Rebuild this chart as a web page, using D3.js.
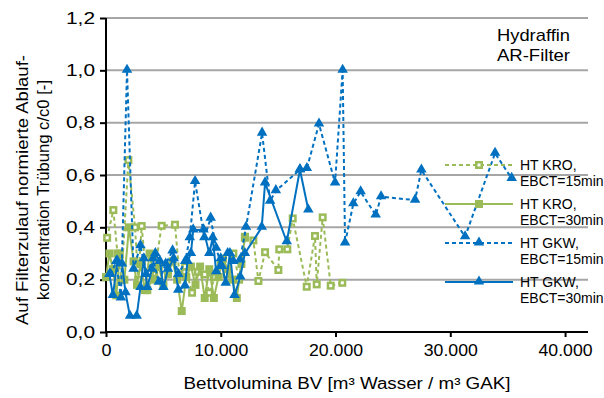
<!DOCTYPE html>
<html>
<head>
<meta charset="utf-8">
<script src="https://cdn.jsdelivr.net/npm/d3@7"></script>
<style>
  html, body { margin: 0; padding: 0; background: #fff; }
  svg { display: block; font-family: "Liberation Sans", Arial, sans-serif; }
</style>
</head>
<body>
<svg id="chart" width="604" height="398"></svg>
<script>
// Bed volumes [m³ water / m³ GAC] and normalised turbidity c/c0 per series
const kro15BV = [100, 640, 1000, 1350, 1950, 2530, 2800, 3110, 3600, 4200, 4850, 6010, 6400, 6900, 7500, 8000, 8600, 9000, 9500, 10000, 10500, 11100, 11600, 12110, 12840, 13280, 13860, 15020, 15100, 15800, 16270, 17490, 18210, 18360, 18880, 19580, 20590];
const kro15C  = [0.36, 0.466, 0.30, 0.20, 0.657, 0.40, 0.20, 0.405, 0.16, 0.22, 0.406, 0.41, 0.22, 0.25, 0.15, 0.23, 0.22, 0.15, 0.21, 0.26, 0.22, 0.30, 0.20, 0.364, 0.35, 0.195, 0.305, 0.237, 0.316, 0.316, 0.434, 0.173, 0.367, 0.182, 0.438, 0.177, 0.188];

const kro30BV = [0, 300, 600, 900, 1200, 1600, 2000, 2400, 2700, 3000, 3400, 3800, 4200, 4600, 5000, 5400, 5800, 6200, 6600, 7000, 7400, 7800, 8200, 8600, 9000, 9400, 9800, 10200, 10600, 11000, 11400, 11800, 12100];
const kro30C  = [0.21, 0.30, 0.24, 0.14, 0.30, 0.20, 0.40, 0.27, 0.18, 0.26, 0.16, 0.30, 0.20, 0.25, 0.18, 0.22, 0.27, 0.20, 0.08, 0.21, 0.25, 0.18, 0.25, 0.13, 0.24, 0.13, 0.21, 0.28, 0.24, 0.20, 0.13, 0.26, 0.36];

const gkw15BV = [400, 900, 1300, 1830, 2400, 3000, 3500, 4100, 4600, 5200, 5800, 6300, 6900, 7300, 7760, 8570, 9120, 9600, 10100, 10600, 11100, 11680, 12200, 13600, 14300, 14800, 16900, 17500, 18560, 19960, 20620, 20830, 21550, 22190, 23500, 23970, 26930, 27480, 31290, 33900, 35350];
const gkw15C  = [0.22, 0.27, 0.13, 1.00, 0.24, 0.33, 0.22, 0.28, 0.19, 0.26, 0.31, 0.22, 0.27, 0.36, 0.575, 0.36, 0.435, 0.32, 0.25, 0.30, 0.27, 0.275, 0.40, 0.76, 0.50, 0.54, 0.62, 0.625, 0.795, 0.57, 1.00, 0.34, 0.49, 0.536, 0.447, 0.517, 0.504, 0.619, 0.364, 0.683, 0.587];

const gkw30BV = [300, 600, 1000, 1400, 1700, 2090, 2670, 3000, 3300, 3600, 4000, 4300, 4700, 5000, 5400, 5900, 6300, 6880, 7100, 7400, 7600, 8500, 9000, 9300, 9600, 10000, 10430, 10800, 11200, 11700, 12100, 13570, 13860, 15750, 16900, 17630];
const gkw30C  = [0.22, 0.14, 0.27, 0.26, 0.15, 0.06, 0.06, 0.17, 0.28, 0.17, 0.24, 0.30, 0.27, 0.17, 0.24, 0.28, 0.16, 0.176, 0.27, 0.30, 0.39, 0.39, 0.30, 0.36, 0.23, 0.28, 0.186, 0.30, 0.14, 0.21, 0.30, 0.40, 0.57, 0.345, 0.62, 0.466];

const xTicks = [0, 10000, 20000, 30000, 40000];
const yTicks = [0, 0.2, 0.4, 0.6, 0.8, 1.0, 1.2];

const seriesNames = ["HT KRO,|EBCT=15min", "HT KRO,|EBCT=30min", "HT GKW,|EBCT=15min", "HT GKW,|EBCT=30min"];

const GREEN = "#9bbb59";
const BLUE = "#0070c0";

const series = [
  { name: seriesNames[0], bv: kro15BV, c: kro15C, color: GREEN, dash: "4,3", shape: "square", hollow: true },
  { name: seriesNames[1], bv: kro30BV, c: kro30C, color: GREEN, dash: null, shape: "square", hollow: false },
  { name: seriesNames[2], bv: gkw15BV, c: gkw15C, color: BLUE, dash: "4,3", shape: "triangle", hollow: false },
  { name: seriesNames[3], bv: gkw30BV, c: gkw30C, color: BLUE, dash: null, shape: "triangle", hollow: false }
];

const svg = d3.select("#chart");
const x = d3.scaleLinear().domain([0, 42000]).range([106, 588]);
const y = d3.scaleLinear().domain([0, 1.2]).range([332, 18]);

const fmtX = v => d3.format(",")(v).replace(/,/g, ".");
const fmtY = v => d3.format(".1f")(v).replace(".", ",");

// horizontal gridlines
svg.append("g")
  .selectAll("line")
  .data(yTicks.filter(t => t > 0))
  .join("line")
  .attr("x1", x(0)).attr("x2", x(42000))
  .attr("y1", d => y(d)).attr("y2", d => y(d))
  .attr("stroke", "#a6a6a6").attr("stroke-width", 2);

// axes
const xAxis = svg.append("g")
  .attr("transform", `translate(0,${y(0)})`)
  .call(d3.axisBottom(x).tickValues(xTicks).tickFormat(fmtX).tickSize(5).tickPadding(8));
const yAxis = svg.append("g")
  .attr("transform", `translate(${x(0)},0)`)
  .call(d3.axisLeft(y).tickValues(yTicks).tickFormat(fmtY).tickSize(6).tickPadding(5));

[xAxis, yAxis].forEach(a => {
  a.select(".domain").attr("stroke", "#000").attr("stroke-width", 2);
  a.selectAll(".tick line").attr("stroke", "#000").attr("stroke-width", 2);
  a.selectAll(".tick text").attr("fill", "#000").style("font-size", "16px")
    .style("font-family", "'Liberation Sans', Arial, sans-serif")
    .attr("lengthAdjust", "spacingAndGlyphs");
});
xAxis.selectAll(".tick text").attr("textLength", d => d === 0 ? 10 : 54);
yAxis.selectAll(".tick text").attr("textLength", 29);
xAxis.select(".domain").attr("d", `M${x(0)},0H${x(42000)}`);
yAxis.select(".domain").attr("d", `M0,${y(0)}V${y(1.2)}`);

// axis titles
svg.append("text")
  .attr("x", 347).attr("y", 389)
  .attr("text-anchor", "middle")
  .attr("textLength", 327).attr("lengthAdjust", "spacingAndGlyphs")
  .style("font-size", "16px")
  .text("Bettvolumina BV [m³ Wasser / m³ GAK]");

const yTitle = svg.append("g").attr("transform", "translate(0,190) rotate(-90)");
yTitle.append("text")
  .attr("x", 0).attr("y", 28).attr("text-anchor", "middle")
  .attr("textLength", 270).attr("lengthAdjust", "spacingAndGlyphs")
  .style("font-size", "16px")
  .text("Auf Filterzulauf normierte Ablauf-");
yTitle.append("text")
  .attr("x", 0).attr("y", 49).attr("text-anchor", "middle")
  .attr("textLength", 220).attr("lengthAdjust", "spacingAndGlyphs")
  .style("font-size", "16px")
  .text("konzentration Trübung c/c0 [-]");

// filter label
[["Hydraffin", 41], ["AR-Filter", 61]].forEach(([t, ty]) => {
  svg.append("text")
    .attr("x", 570).attr("y", ty).attr("text-anchor", "end")
    .attr("textLength", 73).attr("lengthAdjust", "spacingAndGlyphs")
    .style("font-size", "17px")
    .text(t);
});

const triangle = d3.symbol().type(d3.symbolTriangle).size(48);

function drawMarker(g, s, px, py) {
  if (s.shape === "square") {
    g.append("rect")
      .attr("x", px - 4).attr("y", py - 4).attr("width", 8).attr("height", 8)
      .attr("fill", s.color);
    if (s.hollow) {
      g.append("rect")
        .attr("x", px - 1.5).attr("y", py - 1.5).attr("width", 3).attr("height", 3)
        .attr("fill", "#fff");
    }
  } else {
    g.append("path")
      .attr("d", triangle())
      .attr("transform", `translate(${px},${py - 0.5})`)
      .attr("fill", s.color);
  }
}

const line = d3.line().x(d => x(d[0])).y(d => y(d[1]));

series.forEach(s => {
  const pts = s.bv.map((v, i) => [v, s.c[i]]);
  const g = svg.append("g");
  g.append("path")
    .attr("d", line(pts))
    .attr("fill", "none")
    .attr("stroke", s.color)
    .attr("stroke-width", 2)
    .attr("stroke-dasharray", s.dash);
  pts.forEach(p => drawMarker(g, s, x(p[0]), y(p[1])));
});

// legend
const legendY = [165, 204, 243, 282];
series.forEach((s, i) => {
  const g = svg.append("g");
  const ly = legendY[i];
  g.append("line")
    .attr("x1", 445).attr("x2", 513).attr("y1", ly).attr("y2", ly)
    .attr("stroke", s.color).attr("stroke-width", 2)
    .attr("stroke-dasharray", s.dash);
  drawMarker(g, s, 479, ly);
  const parts = s.name.split("|");
  const t = g.append("text").style("font-size", "14px");
  t.append("tspan").attr("x", 520).attr("y", ly + 5).text(parts[0]);
  t.append("tspan").attr("x", 520).attr("y", ly + 21).text(parts[1]);
});
</script>
</body>
</html>
